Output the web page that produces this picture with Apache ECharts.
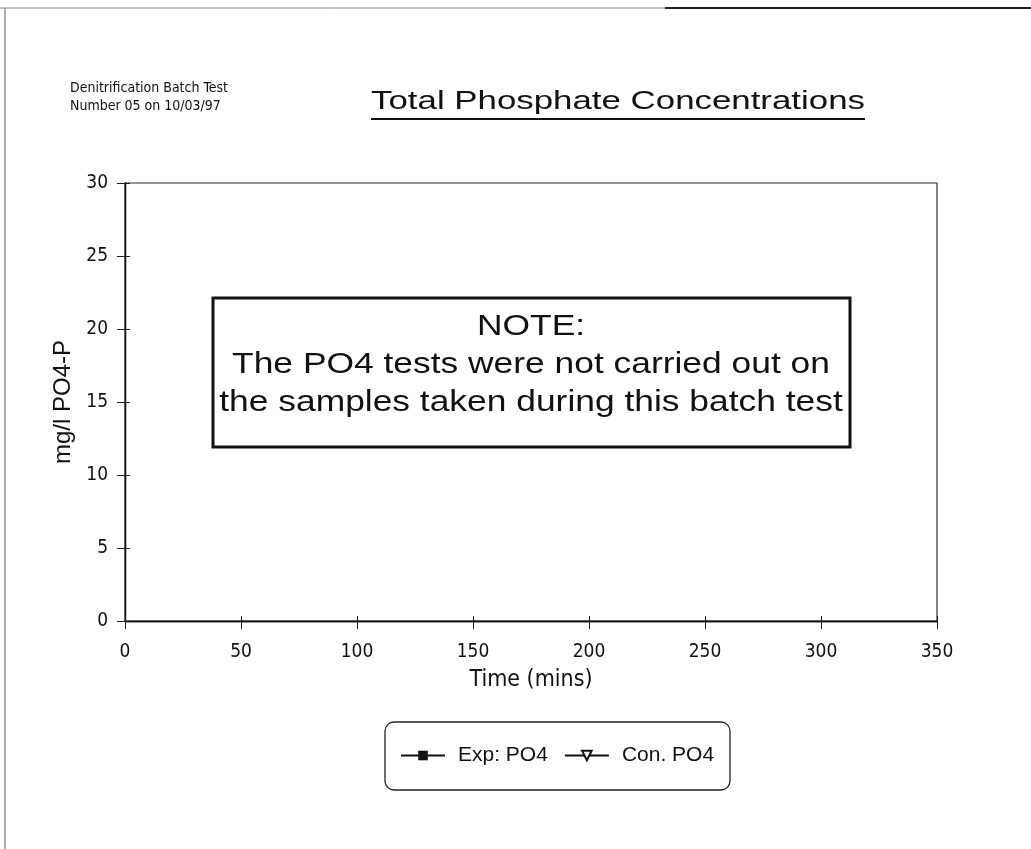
<!DOCTYPE html>
<html>
<head>
<meta charset="utf-8">
<script src="https://cdn.jsdelivr.net/npm/echarts@6/dist/echarts.min.js"></script>
<style>
  html, body { margin: 0; padding: 0; background: #fff; }
  #chart { width: 1031px; height: 849px; }
</style>
</head>
<body>
<div id="chart"></div>
<script>
// Phosphate measurements for batch test 05 (none were taken, so both series are empty)
const timeTicks = [0, 50, 100, 150, 200, 250, 300, 350];
const concTicks = [0, 5, 10, 15, 20, 25, 30];
const expPO4 = [];   // [time (mins), mg/l PO4-P]
const conPO4 = [];   // [time (mins), mg/l PO4-P]
const seriesNames = ['Exp: PO4', 'Con. PO4'];
const titleText = 'Total Phosphate Concentrations';
const headerLines = ['Denitrification Batch Test', 'Number 05 on 10/03/97'];
const noteLines = ['NOTE:', 'The PO4 tests were not carried out on', 'the samples taken during this batch test'];

const narrow = "'DejaVu Sans Condensed', 'Liberation Sans Narrow', sans-serif";
const arial = "'Liberation Sans', Arial, sans-serif";

const chart = echarts.init(document.getElementById('chart'), null, { renderer: 'canvas' });

const axisBase = {
  axisLine: { show: true, lineStyle: { color: '#111', width: 1.3 } },
  splitLine: { show: false }
};

// centred text line, widened a little to the proportions of the printed page
function wideText(str, x, y, size, stretch, z) {
  return {
    type: 'text', x: x, y: y, scaleX: stretch, z: z || 5,
    style: { text: str, font: size + 'px ' + arial, fill: '#111', textAlign: 'center', textVerticalAlign: 'middle' }
  };
}

const option = {
  backgroundColor: '#fff',
  animation: false,
  grid: {
    left: 125, top: 183, right: 94, bottom: 228,
    show: true, borderColor: '#333', borderWidth: 1.2, backgroundColor: 'transparent'
  },
  xAxis: [
    Object.assign({}, axisBase, {
      type: 'value', position: 'bottom',
      min: timeTicks[0], max: timeTicks[timeTicks.length - 1], interval: timeTicks[1] - timeTicks[0],
      axisTick: { show: true, length: 8, lineStyle: { color: '#222' } },
      axisLabel: { margin: 22, fontFamily: narrow, fontSize: 19, color: '#111' },
      name: 'Time (mins)', nameLocation: 'middle', nameGap: 48,
      nameTextStyle: { fontFamily: narrow, fontSize: 23, color: '#111' }
    }),
    Object.assign({}, axisBase, {
      type: 'value', position: 'bottom',
      min: timeTicks[0], max: timeTicks[timeTicks.length - 1], interval: timeTicks[1] - timeTicks[0],
      axisTick: { show: true, inside: true, length: 5, lineStyle: { color: '#222' } },
      axisLabel: { show: false }
    })
  ],
  yAxis: [
    Object.assign({}, axisBase, {
      type: 'value', position: 'left',
      min: concTicks[0], max: concTicks[concTicks.length - 1], interval: concTicks[1] - concTicks[0],
      axisTick: { show: true, length: 8, lineStyle: { color: '#222' } },
      axisLabel: { margin: 17, fontFamily: narrow, fontSize: 19, color: '#111' },
      name: 'mg/l PO4-P', nameLocation: 'middle', nameGap: 34,
      nameTextStyle: { fontFamily: arial, fontSize: 24, color: '#111' }
    }),
    Object.assign({}, axisBase, {
      type: 'value', position: 'left',
      min: concTicks[0], max: concTicks[concTicks.length - 1], interval: concTicks[1] - concTicks[0],
      axisTick: { show: true, inside: true, length: 5, lineStyle: { color: '#222' } },
      axisLabel: { show: false }
    })
  ],
  legend: {
    left: 400, top: 745,
    orient: 'horizontal',
    padding: 0,
    itemGap: 16,
    itemWidth: 44, itemHeight: 12,
    textStyle: { fontFamily: arial, fontSize: 21, color: '#111', padding: [0, 0, 0, 8] },
    data: seriesNames
  },
  series: [
    {
      name: seriesNames[0], type: 'line', data: expPO4,
      symbol: 'rect', symbolSize: 11,
      lineStyle: { color: '#111', width: 2.2 },
      itemStyle: { color: '#111' }
    },
    {
      name: seriesNames[1], type: 'line', data: conPO4,
      symbol: 'triangle', symbolRotate: 180, symbolSize: 11,
      lineStyle: { color: '#111', width: 1.2 },
      itemStyle: { color: '#fff', borderColor: '#111', borderWidth: 1.4 }
    }
  ],
  graphic: [
    // page frame
    { type: 'line', shape: { x1: 0, y1: 8, x2: 665, y2: 8 }, style: { stroke: '#888', lineWidth: 1 } },
    { type: 'line', shape: { x1: 665, y1: 8, x2: 1031, y2: 8 }, style: { stroke: '#222', lineWidth: 2 } },
    { type: 'line', shape: { x1: 5, y1: 8, x2: 5, y2: 849 }, style: { stroke: '#777', lineWidth: 1.2 } },
    // header
    { type: 'text', left: 70, top: 79, style: { text: headerLines.join('\n'), font: "14px " + narrow, fill: '#111', lineHeight: 18 } },
    wideText(titleText, 618, 102, 26, 1.34),
    { type: 'line', shape: { x1: 371, y1: 119, x2: 865, y2: 119 }, style: { stroke: '#111', lineWidth: 2 } },
    // note box
    { type: 'rect', shape: { x: 213, y: 298, width: 637, height: 149 }, style: { fill: '#fff', stroke: '#111', lineWidth: 3 }, z: 10 },
    wideText(noteLines[0], 531, 327, 29, 1.22, 11),
    wideText(noteLines[1], 531, 365, 29, 1.22, 11),
    wideText(noteLines[2], 531, 403, 29, 1.22, 11),
    // legend frame
    { type: 'rect', shape: { x: 385, y: 722, width: 345, height: 68, r: 9 }, style: { fill: 'none', stroke: '#222', lineWidth: 1.3 } }
  ]
};

chart.setOption(option);
</script>
</body>
</html>
